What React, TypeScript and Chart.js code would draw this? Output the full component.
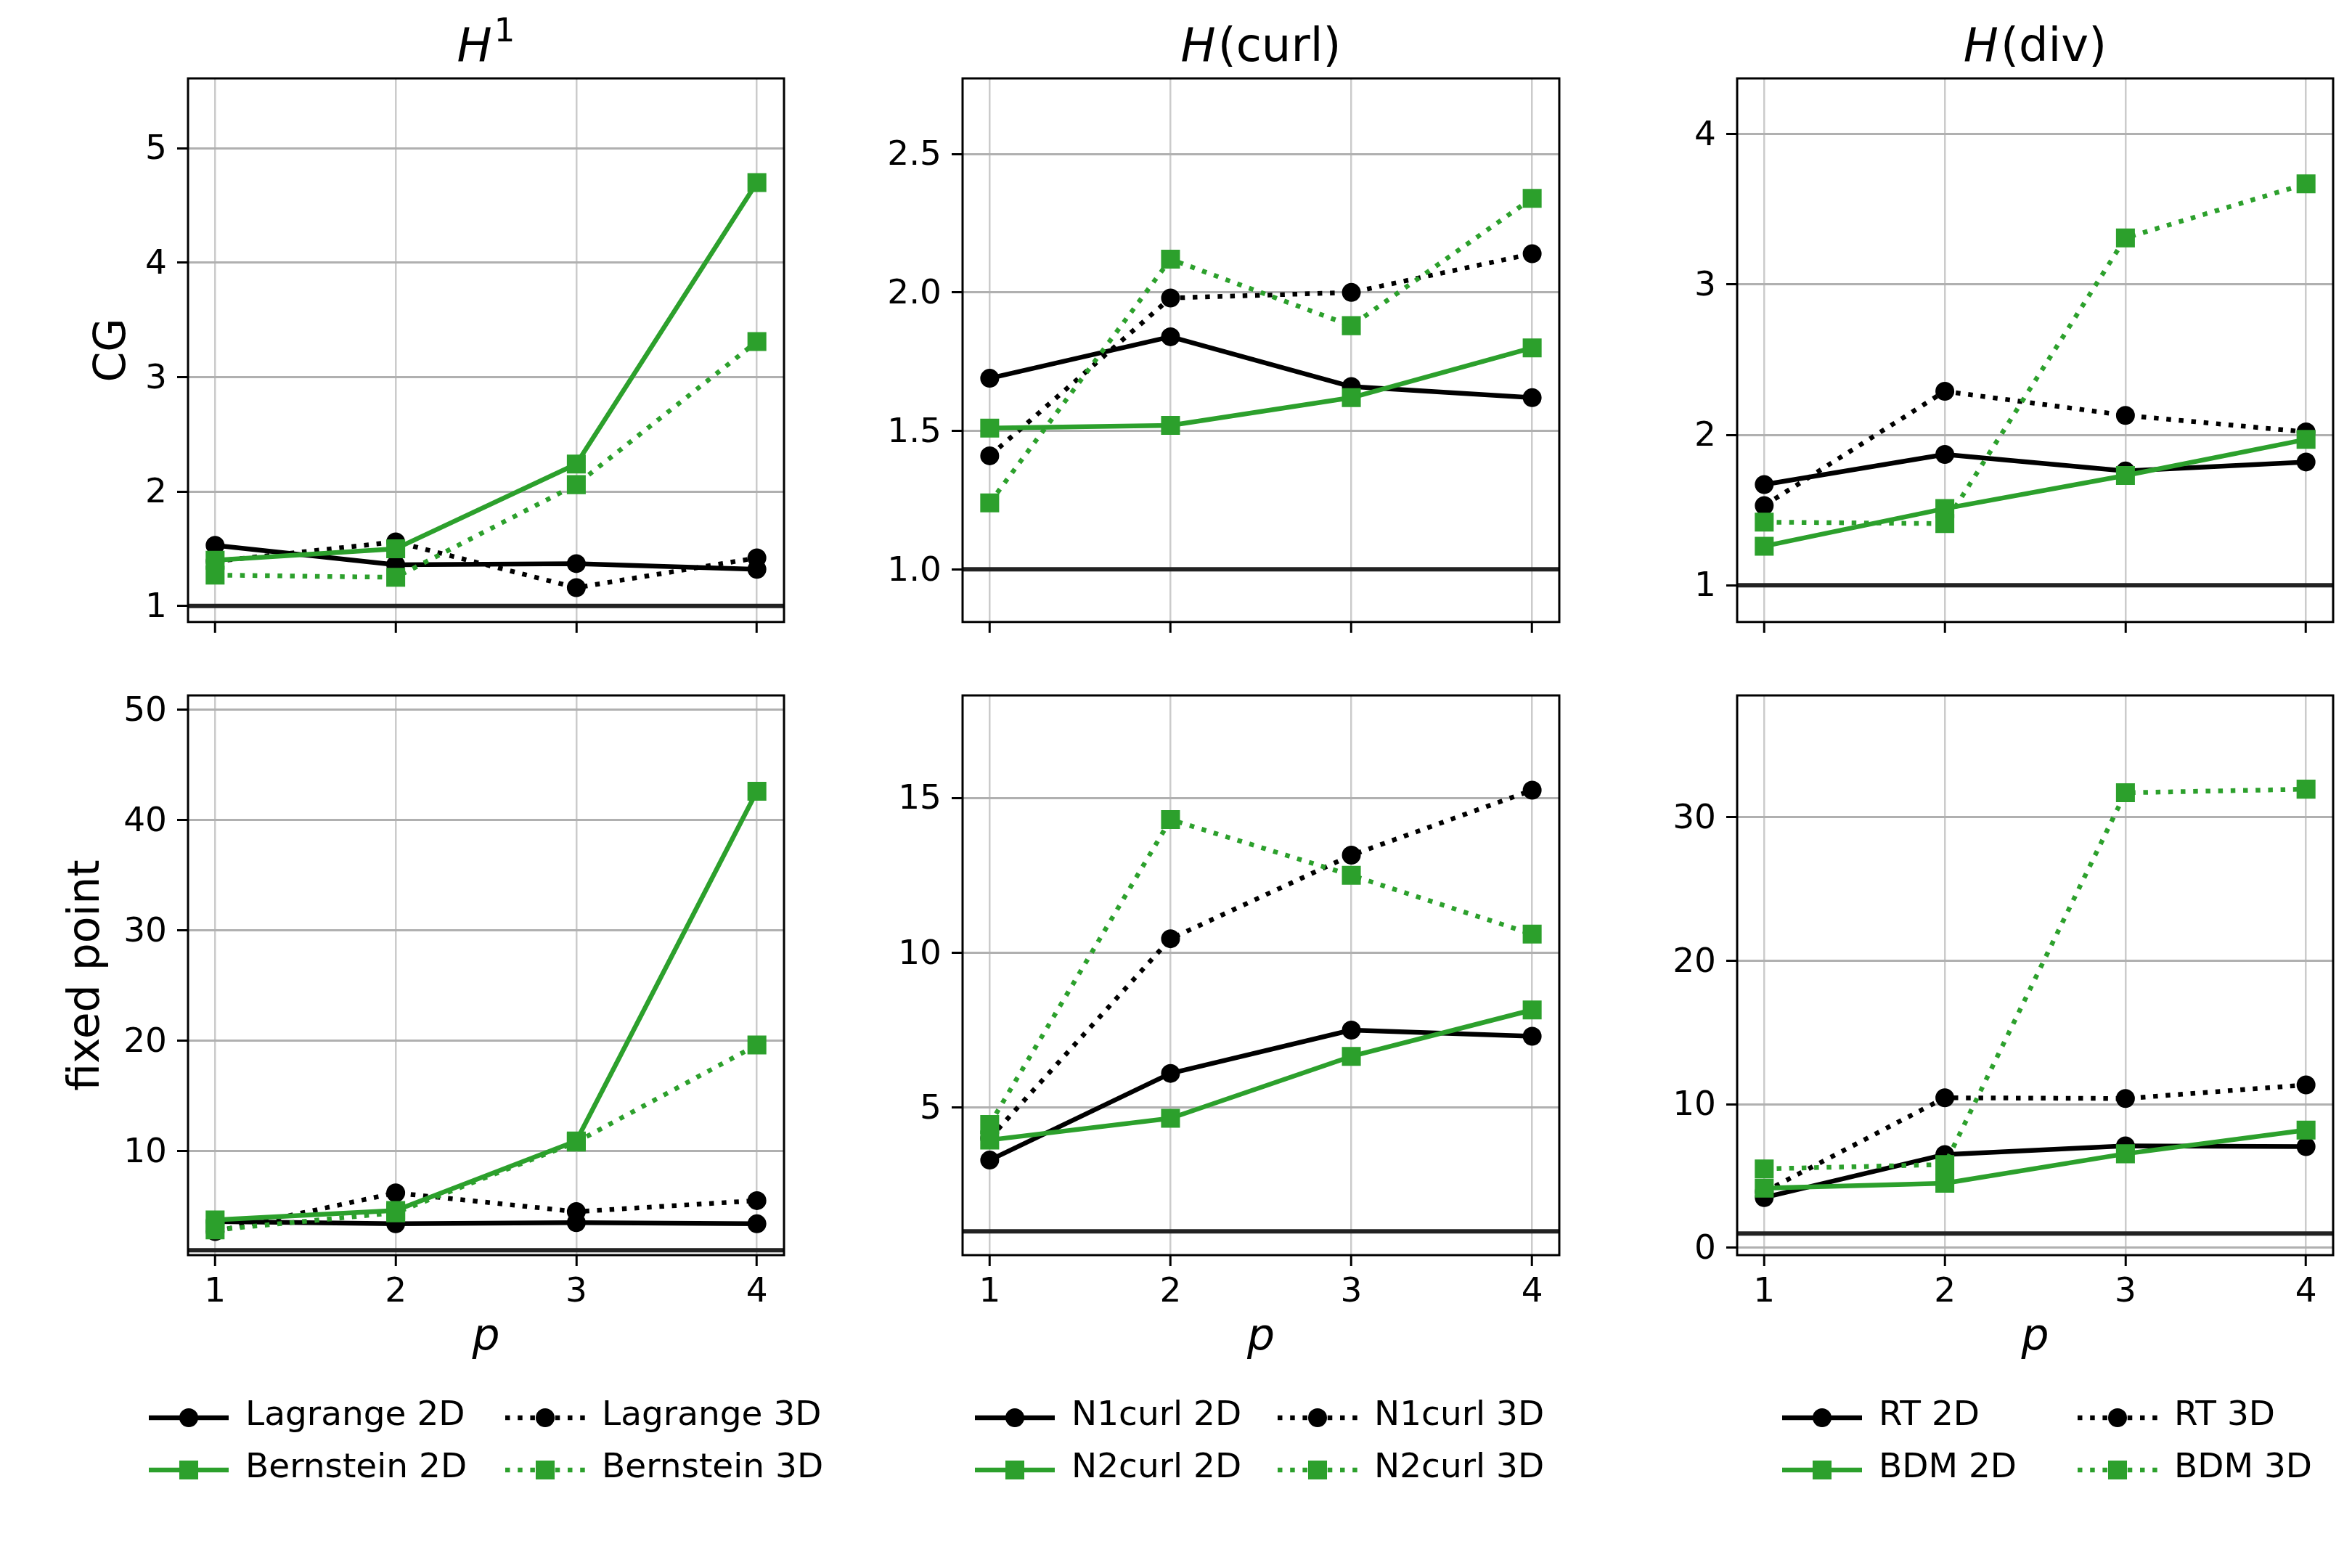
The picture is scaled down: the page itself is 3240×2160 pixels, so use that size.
import React, { useEffect, useRef } from 'react';
import { Chart, registerables } from 'chart.js';

Chart.register(...registerables);
Chart.defaults.font.family = "'DejaVu Sans', sans-serif";

// ---------------- data ----------------
const degrees = [1, 2, 3, 4];
const xTicks = [1, 2, 3, 4];
const xRange = [0.85, 4.15];
const referenceLevel = 1;

// H^1 — CG
const lagrange2D_cg = [1.53, 1.36, 1.37, 1.32];
const lagrange3D_cg = [1.39, 1.56, 1.16, 1.42];
const bernstein2D_cg = [1.4, 1.5, 2.24, 4.7];
const bernstein3D_cg = [1.27, 1.25, 2.06, 3.31];
// H(curl) — CG
const n1curl2D_cg = [1.69, 1.84, 1.66, 1.62];
const n1curl3D_cg = [1.41, 1.98, 2.0, 2.14];
const n2curl2D_cg = [1.51, 1.52, 1.62, 1.8];
const n2curl3D_cg = [1.24, 2.12, 1.88, 2.34];
// H(div) — CG
const rt2D_cg = [1.67, 1.87, 1.76, 1.82];
const rt3D_cg = [1.53, 2.29, 2.13, 2.02];
const bdm2D_cg = [1.26, 1.51, 1.73, 1.97];
const bdm3D_cg = [1.42, 1.41, 3.31, 3.67];
// H^1 — fixed point
const lagrange2D_fp = [3.6, 3.4, 3.5, 3.4];
const lagrange3D_fp = [2.7, 6.2, 4.5, 5.5];
const bernstein2D_fp = [3.75, 4.6, 10.9, 42.6];
const bernstein3D_fp = [2.85, 4.4, 10.8, 19.6];
// H(curl) — fixed point
const n1curl2D_fp = [3.3, 6.1, 7.5, 7.3];
const n1curl3D_fp = [4.0, 10.45, 13.15, 15.25];
const n2curl2D_fp = [3.95, 4.65, 6.65, 8.15];
const n2curl3D_fp = [4.45, 14.3, 12.5, 10.6];
// H(div) — fixed point
const rt2D_fp = [3.5, 6.5, 7.1, 7.05];
const rt3D_fp = [3.9, 10.45, 10.4, 11.35];
const bdm2D_fp = [4.15, 4.5, 6.55, 8.2];
const bdm3D_fp = [5.5, 5.8, 31.7, 31.95];

// axis ranges and tick labels
const rangeCG_H1 = [0.86, 5.61];
const rangeCG_curl = [0.81, 2.773];
const rangeCG_div = [0.756, 4.371];
const rangeFP_H1 = [0.56, 51.28];
const rangeFP_curl = [0.23, 18.31];
const rangeFP_div = [-0.51, 38.48];
const ticksCG_H1 = [1, 2, 3, 4, 5];
const labelsCG_H1 = ['1', '2', '3', '4', '5'];
const ticksCG_curl = [1, 1.5, 2, 2.5];
const labelsCG_curl = ['1.0', '1.5', '2.0', '2.5'];
const ticksCG_div = [1, 2, 3, 4];
const labelsCG_div = ['1', '2', '3', '4'];
const ticksFP_H1 = [10, 20, 30, 40, 50];
const labelsFP_H1 = ['10', '20', '30', '40', '50'];
const ticksFP_curl = [5, 10, 15];
const labelsFP_curl = ['5', '10', '15'];
const ticksFP_div = [0, 10, 20, 30];
const labelsFP_div = ['0', '10', '20', '30'];

const labelsH1 = ['Lagrange 2D', 'Lagrange 3D', 'Bernstein 2D', 'Bernstein 3D'];
const labelsCurl = ['N1curl 2D', 'N1curl 3D', 'N2curl 2D', 'N2curl 3D'];
const labelsDiv = ['RT 2D', 'RT 3D', 'BDM 2D', 'BDM 3D'];

// ---------------- style ----------------
const BLACK = '#000000';
const GREEN = '#2ca02c';
const LW = 6.5;
const DOT = [6.5, 10.7];
const CIRCLE_R = 12;
const RECT_R = 17;
const TICK_SIZE = 47;
const LABEL_SIZE = 60;
const TITLE_SIZE = 64;
const SUP_SIZE = 45;
const LEGEND_SIZE = 47;

type Marker = 'circle' | 'rect';
interface SeriesDef { label: string; values: number[]; color: string; dotted: boolean; marker: Marker; }
interface TitlePart { text: string; italic?: boolean; sup?: boolean; }
interface PanelCfg {
  key: string;
  left: number; top: number; width: number; height: number;
  yW: number; xH: number; padTop: number; padRight: number; padBottom: number;
  yRange: number[]; yTicks: number[]; yTickLabels: string[];
  series: SeriesDef[];
  title?: TitlePart[];
  yTitle?: string; yTitlePad?: number;
  showXLabels: boolean;
  legendX?: number[];
}

function family(labels: string[], a: number[], b: number[], c: number[], d: number[]): SeriesDef[] {
  return [
    { label: labels[0], values: a, color: BLACK, dotted: false, marker: 'circle' },
    { label: labels[1], values: b, color: BLACK, dotted: true, marker: 'circle' },
    { label: labels[2], values: c, color: GREEN, dotted: false, marker: 'rect' },
    { label: labels[3], values: d, color: GREEN, dotted: true, marker: 'rect' },
  ];
}

const cols = [
  { left: 0, width: 1146, yW: 259, padRight: 66 },
  { left: 1146, width: 1042, yW: 180, padRight: 40 },
  { left: 2213, width: 1027, yW: 180, padRight: 26 },
];
const rows = [
  { top: 0, height: 899, padTop: 108, padBottom: 0, xH: 20 },
  { top: 900, height: 1260, padTop: 58, padBottom: 260, xH: 171 },
];
const legendHandleX = [[205, 696], [1343, 1760], [2455, 2862]];
const legendRowY = [1953, 2025];

function mk(ci: number, ri: number, rest: Partial<PanelCfg>): PanelCfg {
  const c = cols[ci], r = rows[ri];
  return {
    key: `${ci}-${ri}`,
    left: c.left, top: r.top, width: c.width, height: r.height,
    yW: c.yW, xH: r.xH, padTop: r.padTop, padRight: c.padRight, padBottom: r.padBottom,
    showXLabels: ri === 1,
    legendX: ri === 1 ? legendHandleX[ci] : undefined,
    ...(rest as any),
  } as PanelCfg;
}

const panels: PanelCfg[] = [
  mk(0, 0, { yRange: rangeCG_H1, yTicks: ticksCG_H1, yTickLabels: labelsCG_H1,
    series: family(labelsH1, lagrange2D_cg, lagrange3D_cg, bernstein2D_cg, bernstein3D_cg),
    title: [{ text: 'H', italic: true }, { text: '1', sup: true }], yTitle: 'CG', yTitlePad: 120 }),
  mk(1, 0, { yRange: rangeCG_curl, yTicks: ticksCG_curl, yTickLabels: labelsCG_curl,
    series: family(labelsCurl, n1curl2D_cg, n1curl3D_cg, n2curl2D_cg, n2curl3D_cg),
    title: [{ text: 'H', italic: true }, { text: '(curl)' }] }),
  mk(2, 0, { yRange: rangeCG_div, yTicks: ticksCG_div, yTickLabels: labelsCG_div,
    series: family(labelsDiv, rt2D_cg, rt3D_cg, bdm2D_cg, bdm3D_cg),
    title: [{ text: 'H', italic: true }, { text: '(div)' }] }),
  mk(0, 1, { yRange: rangeFP_H1, yTicks: ticksFP_H1, yTickLabels: labelsFP_H1,
    series: family(labelsH1, lagrange2D_fp, lagrange3D_fp, bernstein2D_fp, bernstein3D_fp),
    yTitle: 'fixed point', yTitlePad: 84 }),
  mk(1, 1, { yRange: rangeFP_curl, yTicks: ticksFP_curl, yTickLabels: labelsFP_curl,
    series: family(labelsCurl, n1curl2D_fp, n1curl3D_fp, n2curl2D_fp, n2curl3D_fp) }),
  mk(2, 1, { yRange: rangeFP_div, yTicks: ticksFP_div, yTickLabels: labelsFP_div,
    series: family(labelsDiv, rt2D_fp, rt3D_fp, bdm2D_fp, bdm3D_fp) }),
];

function drawMarker(ctx: CanvasRenderingContext2D, m: Marker, x: number, y: number, color: string) {
  ctx.save();
  ctx.setLineDash([]);
  ctx.fillStyle = color;
  ctx.strokeStyle = color;
  ctx.lineWidth = 2;
  ctx.beginPath();
  if (m === 'circle') ctx.arc(x, y, CIRCLE_R, 0, Math.PI * 2);
  else { const h = RECT_R * Math.SQRT1_2; ctx.rect(x - h, y - h, 2 * h, 2 * h); }
  ctx.fill();
  ctx.stroke();
  ctx.restore();
}

function Panel({ cfg }: { cfg: PanelCfg }) {
  const ref = useRef<HTMLCanvasElement>(null);
  useEffect(() => {
    const canvas = ref.current;
    if (!canvas) return;
    const decorPlugin = {
      id: 'decor',
      beforeDatasetsDraw(chart: any) {
        const { ctx, chartArea: a } = chart;
        const y = chart.scales.y.getPixelForValue(referenceLevel);
        ctx.save();
        ctx.strokeStyle = '#222222';
        ctx.lineWidth = 6;
        ctx.beginPath();
        ctx.moveTo(a.left, y);
        ctx.lineTo(a.right, y);
        ctx.stroke();
        ctx.restore();
      },
      afterDraw(chart: any) {
        const { ctx, chartArea: a } = chart;
        ctx.save();
        ctx.strokeStyle = '#000';
        ctx.lineWidth = 3;
        ctx.setLineDash([]);
        ctx.strokeRect(a.left, a.top, a.right - a.left, a.bottom - a.top);
        // title
        if (cfg.title) {
          const fontFor = (p: TitlePart) => `${p.italic ? 'italic ' : ''}${p.sup ? SUP_SIZE : TITLE_SIZE}px 'DejaVu Sans'`;
          let total = 0;
          const widths = cfg.title.map((p) => { ctx.font = fontFor(p); const w = ctx.measureText(p.text).width + (p.italic ? 3 : 0); total += w; return w; });
          let x = (a.left + a.right) / 2 - total / 2;
          const base = a.top - 24;
          ctx.fillStyle = '#000';
          ctx.textAlign = 'left';
          ctx.textBaseline = 'alphabetic';
          cfg.title.forEach((p, i) => {
            ctx.font = fontFor(p);
            ctx.fillText(p.text, x, p.sup ? base - 27 : base);
            x += widths[i];
          });
        }
        // legend
        if (cfg.legendX) {
          const order = [[0, 2], [1, 3]];
          order.forEach((idxs, col) => {
            idxs.forEach((si, row) => {
              const s = cfg.series[si];
              const hx = cfg.legendX![col] - cfg.left;
              const hy = legendRowY[row] - cfg.top;
              ctx.save();
              ctx.strokeStyle = s.color;
              ctx.lineWidth = LW;
              ctx.lineCap = 'butt';
              ctx.setLineDash(s.dotted ? DOT : []);
              ctx.beginPath();
              ctx.moveTo(hx, hy);
              ctx.lineTo(hx + 110, hy);
              ctx.stroke();
              ctx.restore();
              drawMarker(ctx, s.marker, hx + 55, hy, s.color);
              ctx.fillStyle = '#000';
              ctx.font = `${LEGEND_SIZE}px 'DejaVu Sans'`;
              ctx.textAlign = 'left';
              ctx.textBaseline = 'middle';
              ctx.fillText(s.label, hx + 133, hy - 2);
            });
          });
        }
        ctx.restore();
      },
    };

    const chart = new Chart(canvas, {
      type: 'line',
      data: {
        datasets: cfg.series.map((s, i) => ({
          label: s.label,
          data: degrees.map((p, j) => ({ x: p, y: s.values[j] })),
          borderColor: s.color,
          backgroundColor: s.color,
          borderWidth: LW,
          borderDash: s.dotted ? DOT : [],
          borderCapStyle: 'butt',
          borderJoinStyle: 'round',
          pointStyle: s.marker,
          pointRadius: s.marker === 'rect' ? RECT_R : CIRCLE_R,
          pointHoverRadius: s.marker === 'rect' ? RECT_R : CIRCLE_R,
          pointBorderWidth: 2,
          pointBackgroundColor: s.color,
          pointBorderColor: s.color,
          tension: 0,
          fill: false,
          order: 4 - i,
        })),
      } as any,
      options: {
        animation: false,
        responsive: false,
        devicePixelRatio: 1,
        events: [],
        layout: { padding: { left: 0, top: cfg.padTop, right: cfg.padRight, bottom: cfg.padBottom }, autoPadding: false },
        plugins: { legend: { display: false }, tooltip: { enabled: false }, title: { display: false } },
        scales: {
          x: {
            type: 'linear', position: 'bottom', min: xRange[0], max: xRange[1], bounds: 'data',
            afterBuildTicks: (s: any) => { s.ticks = xTicks.map((v) => ({ value: v })); },
            afterFit: (s: any) => { s.height = cfg.xH; },
            ticks: { display: cfg.showXLabels, autoSkip: false, maxRotation: 0, padding: 9, color: '#000', font: { size: TICK_SIZE }, callback: (v: any) => String(v) },
            grid: { color: '#cbcbcb', lineWidth: 2.5, drawTicks: true, tickLength: 15, tickColor: '#000', tickWidth: 3 },
            border: { display: false },
            title: { display: cfg.showXLabels, text: 'p', color: '#000', font: { size: LABEL_SIZE, style: 'italic' }, padding: { top: 0, bottom: 20 } },
          },
          y: {
            type: 'linear', position: 'left', min: cfg.yRange[0], max: cfg.yRange[1], bounds: 'data',
            afterBuildTicks: (s: any) => { s.ticks = cfg.yTicks.map((v) => ({ value: v })); },
            afterFit: (s: any) => { s.width = cfg.yW; },
            ticks: { autoSkip: false, padding: 14, labelOffset: 3, color: '#000', font: { size: TICK_SIZE }, callback: (_v: any, i: number) => cfg.yTickLabels[i] },
            grid: { color: '#b0b0b0', lineWidth: 3, drawTicks: true, tickLength: 15, tickColor: '#000', tickWidth: 3 },
            border: { display: false },
            title: { display: !!cfg.yTitle, text: cfg.yTitle || '', color: '#000', font: { size: LABEL_SIZE }, padding: { top: cfg.yTitlePad || 0, bottom: 0 } },
          },
        },
      } as any,
      plugins: [decorPlugin],
    });
    return () => chart.destroy();
  }, [cfg]);
  return (
    <canvas
      ref={ref}
      width={cfg.width}
      height={cfg.height}
      style={{ position: 'absolute', left: cfg.left, top: cfg.top, width: cfg.width, height: cfg.height }}
    />
  );
}

export default function App() {
  return (
    <div style={{ position: 'absolute', left: 0, top: 0, width: 3240, height: 2160, background: '#fff', overflow: 'hidden' }}>
      {panels.map((p) => <Panel key={p.key} cfg={p} />)}
    </div>
  );
}
